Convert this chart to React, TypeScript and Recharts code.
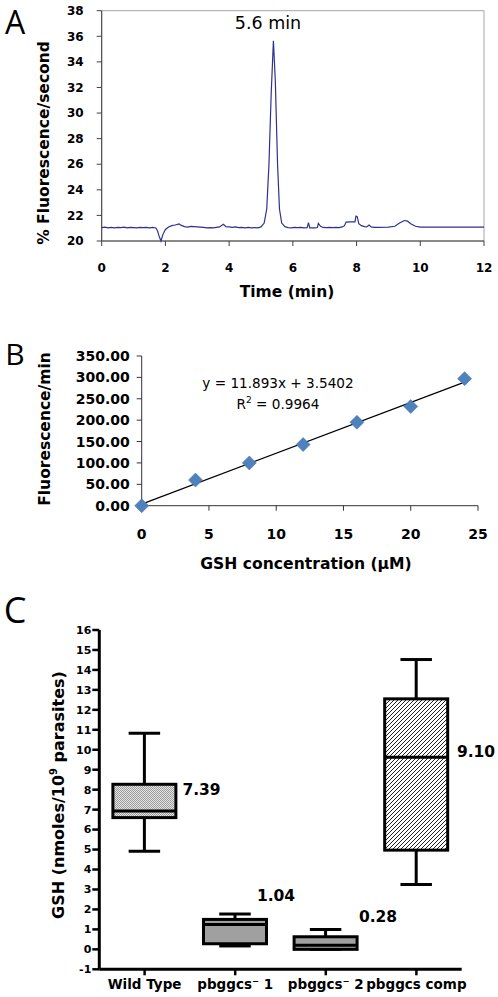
import React from 'react';
import {
  LineChart, Line, XAxis, YAxis, ReferenceArea,
  ScatterChart, Scatter, ReferenceLine,
  BarChart, Bar,
} from 'recharts';

// Panel A: chromatogram trace
const timeMin = [
  0, 0.1, 0.2, 0.3, 0.4, 0.5, 0.6, 0.7, 0.8, 0.9, 1.0, 1.1, 1.2, 1.3, 1.4, 1.5, 1.6, 1.7,
  1.75, 1.8, 1.86, 1.92, 2.0, 2.1, 2.2, 2.3, 2.43, 2.5, 2.6, 2.7, 2.8, 2.9, 3.0, 3.1, 3.2,
  3.3, 3.4, 3.5, 3.6, 3.7, 3.82, 3.9, 4.0, 4.1, 4.2, 4.3, 4.4, 4.5, 4.6, 4.7, 4.8, 4.9, 5.0,
  5.1, 5.18, 5.25, 5.32, 5.39, 5.45, 5.52, 5.58, 5.65, 5.75, 5.85, 5.95, 6.05, 6.15, 6.25,
  6.35, 6.45, 6.49, 6.53, 6.6, 6.7, 6.77, 6.8, 6.87, 6.95, 7.05, 7.15, 7.25, 7.35, 7.45,
  7.55, 7.62, 7.67, 7.8, 7.95, 7.98, 8.02, 8.07, 8.15, 8.25, 8.32, 8.39, 8.46, 8.55, 8.7,
  9.0, 9.2, 9.35, 9.5, 9.6, 9.7, 9.85, 10.0, 12.0,
];
const fluorescence = [
  21.05, 21.08, 21.03, 21.07, 21.02, 21.06, 21.04, 21.08, 21.03, 21.06, 21.05, 21.02, 21.07, 21.04, 21.06, 21.03, 21.07, 21.02,
  20.8, 20.4, 20.0, 20.5, 20.9, 21.1, 21.2, 21.25, 21.33, 21.22, 21.12, 21.08, 21.14, 21.12, 21.1, 21.08, 21.06,
  21.03, 21.05, 21.02, 21.06, 21.1, 21.3, 21.12, 21.1, 21.06, 21.1, 21.05, 21.07, 21.03, 21.06, 21.02, 21.05, 21.03, 21.1,
  21.4, 22.5, 26.0, 31.5, 35.65, 32.5, 26.0, 22.5, 21.4, 21.12, 21.05, 21.03, 21.06, 21.04, 21.07,
  21.03, 21.05, 21.43, 21.02, 21.02, 21.02, 21.05, 21.38, 21.15, 21.06, 21.04, 21.06, 21.05, 21.07, 21.05,
  21.1, 21.2, 21.48, 21.5, 21.5, 21.95, 21.9, 21.35, 21.2, 21.12, 21.1, 21.25, 21.1, 21.07, 21.07,
  21.08, 21.15, 21.4, 21.6, 21.55, 21.35, 21.15, 21.08, 21.08,
];
const timeTicks = [0, 2, 4, 6, 8, 10, 12];
const fluorTicks = [20, 22, 24, 26, 28, 30, 32, 34, 36, 38];

// Panel B: calibration
const gshConc = [0, 4, 8, 12, 16, 20, 24];
const fluorPerMin = [0, 60, 100, 143, 195, 232, 297];
const concTicks = [0, 5, 10, 15, 20, 25];
const rateTicks = [0, 50, 100, 150, 200, 250, 300, 350];
const fitSlope = 11.893;
const fitIntercept = 3.5402;

// Panel C: box plots
const strains = ['Wild Type', 'pbggcs\u207B 1', 'pbggcs\u207B 2', 'pbggcs comp'];
const whiskerLow = [4.92, 0.17, 0, 3.25];
const quart1 = [6.6, 0.28, 0, 4.97];
const medians = [6.93, 1.25, 0.2, 9.63];
const quart3 = [8.27, 1.5, 0.63, 12.55];
const whiskerHigh = [10.83, 1.77, 1.0, 14.52];
const means = [7.39, 1.04, 0.28, 9.1];
const gshTicks = [-1, 0, 1, 2, 3, 4, 5, 6, 7, 8, 9, 10, 11, 12, 13, 14, 15, 16];
const boxFills = ['url(#dots)', '#a0a0a0', '#a0a0a0', 'url(#hatch)'];

const traceData = timeMin.map((t, i) => ({ t, v: fluorescence[i] }));
const calData = gshConc.map((x, i) => ({ x, y: fluorPerMin[i] }));
const boxData = strains.map((name, i) => ({
  name,
  range: [whiskerLow[i], whiskerHigh[i]],
  lo: whiskerLow[i],
  q1: quart1[i],
  med: medians[i],
  q3: quart3[i],
  hi: whiskerHigh[i],
  fill: boxFills[i],
}));

const BOLD = 'DejaVu Sans';

const Txt = ({ x, y, size, bold, rotate, family, children }: any) => (
  <div
    style={{
      position: 'absolute',
      left: x,
      top: y,
      transform: `translate(-50%, -50%)${rotate ? ' rotate(-90deg)' : ''}`,
      whiteSpace: 'nowrap',
      fontFamily: family || BOLD,
      fontWeight: bold ? 'bold' : 'normal',
      fontSize: size,
      lineHeight: 1,
      color: '#000',
    }}
  >
    {children}
  </div>
);

const Diamond = (props: any) => {
  const { cx, cy } = props;
  const r = 7;
  return (
    <polygon
      points={`${cx},${cy - r} ${cx + r},${cy} ${cx},${cy + r} ${cx - r},${cy}`}
      fill="#4f81bd"
      stroke="#3f6fa8"
      strokeWidth={0.5}
    />
  );
};

const BoxShape = (props: any) => {
  const { x, y, width, height, payload } = props;
  const top = Math.min(y, y + height);
  const h = Math.abs(height);
  const k = h / (payload.hi - payload.lo);
  const py = (v: number) => top + (payload.hi - v) * k;
  const cx = x + width / 2;
  const cap = width / 4;
  return (
    <g>
      <defs>
        <pattern id="dots" width="2" height="2" patternUnits="userSpaceOnUse">
          <rect width="2" height="2" fill="#e6e6e6" />
          <rect width="1" height="1" fill="#9a9a9a" />
          <rect x="1" y="1" width="1" height="1" fill="#9a9a9a" />
        </pattern>
        <pattern id="hatch" width="4" height="4" patternUnits="userSpaceOnUse">
          <rect width="4" height="4" fill="#fff" />
          <path d="M0,4 L4,0 M-1,1 L1,-1 M3,5 L5,3" stroke="#222" strokeWidth={1} />
        </pattern>
      </defs>
      <line x1={cx} x2={cx} y1={py(payload.hi)} y2={py(payload.q3)} stroke="#000" strokeWidth={3} />
      <line x1={cx} x2={cx} y1={py(payload.q1)} y2={py(payload.lo)} stroke="#000" strokeWidth={3} />
      <line x1={cx - cap} x2={cx + cap} y1={py(payload.hi)} y2={py(payload.hi)} stroke="#000" strokeWidth={3} />
      <line x1={cx - cap} x2={cx + cap} y1={py(payload.lo)} y2={py(payload.lo)} stroke="#000" strokeWidth={3} />
      <rect
        x={x}
        y={py(payload.q3)}
        width={width}
        height={py(payload.q1) - py(payload.q3)}
        fill={payload.fill}
        stroke="#000"
        strokeWidth={3}
      />
      <line x1={x} x2={x + width} y1={py(payload.med)} y2={py(payload.med)} stroke="#000" strokeWidth={3} />
    </g>
  );
};

const App = () => {
  const tickA = { fontFamily: BOLD, fontWeight: 'bold', fontSize: 12, fill: '#000' };
  const tickB = { fontFamily: BOLD, fontWeight: 'bold', fontSize: 14, fill: '#000' };
  const tickCy = { fontFamily: BOLD, fontWeight: 'bold', fontSize: 11, fill: '#000' };
  const tickCx = { fontFamily: BOLD, fontWeight: 'bold', fontSize: 13.5, fill: '#000' };

  return (
    <div style={{ position: 'absolute', left: 0, top: 0, width: 498, height: 997, background: '#fff', overflow: 'hidden' }}>
      {/* A */}
      <div style={{ position: 'absolute', left: 0, top: 0 }}>
        <LineChart width={498} height={310} data={traceData} margin={{ top: 10.7, right: 14, bottom: 0, left: 0 }}>
          <ReferenceArea x1={0} x2={12} y1={20} y2={38} fill="none" stroke="#a6a6a6" strokeWidth={1} />
          <XAxis
            dataKey="t"
            type="number"
            domain={[0, 12]}
            ticks={timeTicks}
            interval={0}
            height={69}
            tick={tickA}
            tickSize={5}
            tickMargin={17}
            stroke="#404040"
          />
          <YAxis
            type="number"
            domain={[20, 38]}
            ticks={fluorTicks}
            interval={0}
            width={101.7}
            tick={tickA}
            tickSize={5}
            tickMargin={13}
            stroke="#404040"
          />
          <Line type="linear" dataKey="v" stroke="#2e3192" strokeWidth={1.2} dot={false} isAnimationActive={false} />
        </LineChart>
      </div>
      <Txt x={15} y={22} size={32} family="Open Sans">A</Txt>
      <Txt x={268} y={24} size={17.5}>5.6 min</Txt>
      <Txt x={45} y={143} size={15.5} bold rotate>% Fluorescence/second</Txt>
      <Txt x={287} y={293} size={15.5} bold>Time (min)</Txt>

      {/* B */}
      <div style={{ position: 'absolute', left: 0, top: 330 }}>
        <ScatterChart width={498} height={250} margin={{ top: 26, right: 20, bottom: 0, left: 0 }}>
          <XAxis
            dataKey="x"
            type="number"
            domain={[0, 25]}
            ticks={concTicks}
            interval={0}
            height={74.3}
            tick={tickB}
            tickSize={5}
            tickMargin={18.5}
            stroke="#333"
          />
          <YAxis
            dataKey="y"
            type="number"
            domain={[0, 350]}
            ticks={rateTicks}
            interval={0}
            width={141.7}
            tick={tickB}
            tickSize={5}
            tickMargin={7}
            tickFormatter={(v: number) => v.toFixed(2)}
            stroke="#333"
          />
          <ReferenceLine
            segment={[
              { x: gshConc[0], y: fitIntercept + fitSlope * gshConc[0] },
              { x: gshConc[gshConc.length - 1], y: fitIntercept + fitSlope * gshConc[gshConc.length - 1] },
            ]}
            stroke="#000"
            strokeWidth={1.2}
          />
          <Scatter data={calData} shape={<Diamond />} isAnimationActive={false} />
        </ScatterChart>
      </div>
      <Txt x={15} y={354} size={30} family="Open Sans">B</Txt>
      <Txt x={278} y={384} size={13.6}>y = 11.893x + 3.5402</Txt>
      <Txt x={278} y={404} size={13.6}>
        R<sup style={{ fontSize: 9 }}>2</sup> = 0.9964
      </Txt>
      <Txt x={46} y={429} size={15.5} bold rotate>Fluorescence/min</Txt>
      <Txt x={306} y={565} size={15.6} bold>GSH concentration (µM)</Txt>

      {/* C */}
      <div style={{ position: 'absolute', left: 0, top: 590 }}>
        <BarChart width={498} height={407} data={boxData} margin={{ top: 40, right: 36.3, bottom: 0, left: 0 }} barCategoryGap="15%">
          <XAxis
            dataKey="name"
            interval={0}
            height={27.7}
            tick={tickCx}
            tickSize={6}
            tickMargin={4}
            axisLine={{ stroke: '#000', strokeWidth: 3 }}
            tickLine={{ stroke: '#000', strokeWidth: 2.5 }}
          />
          <YAxis
            type="number"
            domain={[-1, 16]}
            ticks={gshTicks}
            interval={0}
            width={99.3}
            tick={tickCy}
            tickSize={7}
            tickMargin={1}
            axisLine={{ stroke: '#000', strokeWidth: 3 }}
            tickLine={{ stroke: '#000', strokeWidth: 2.5 }}
          />
          <Bar dataKey="range" shape={<BoxShape />} isAnimationActive={false} />
        </BarChart>
      </div>
      <Txt x={15} y={610} size={36} family="Open Sans">C</Txt>
      <Txt x={58} y={795} size={16} bold rotate>
        GSH (nmoles/10<sup style={{ fontSize: 10 }}>9</sup> parasites)
      </Txt>
      <Txt x={201.5} y={791} size={15.5} bold>{means[0].toFixed(2)}</Txt>
      <Txt x={276} y={897} size={15.5} bold>{means[1].toFixed(2)}</Txt>
      <Txt x={378} y={918} size={15.5} bold>{means[2].toFixed(2)}</Txt>
      <Txt x={476} y={753} size={15.5} bold>{means[3].toFixed(2)}</Txt>
    </div>
  );
};

export default App;
